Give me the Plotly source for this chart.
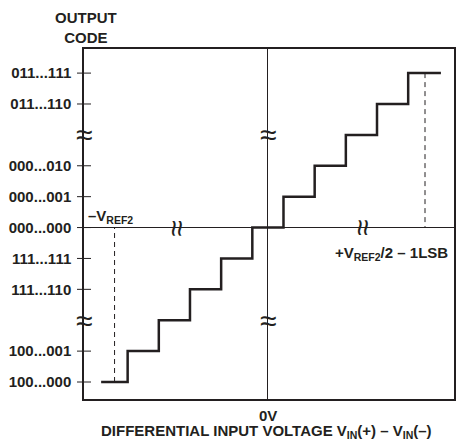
import plotly.graph_objects as go

# ---- data ----
code_positions = [-5, -4, -2, -1, 0, 1, 2, 4, 5]
code_labels = ["100...000", "100...001", "111...110", "111...111", "000...000",
               "000...001", "000...010", "011...110", "011...111"]

step_edges = [-5.35, -4.5, -3.5, -2.5, -1.5, -0.5, 0.5, 1.5, 2.5, 3.5, 4.5, 5.55]
step_levels = [-5, -4, -3, -2, -1, 0, 1, 2, 3, 4, 5]

neg_ref_x = -4.92
pos_ref_x = 5.04

y_break_levels = [-3, 3]
x_break_positions = [-2.9, 3.06]

x_range = [-5.9, 5.97]
y_range = [-5.55, 5.78]

INK = "#231f20"
FONT = "Liberation Sans, Arial, Helvetica, sans-serif"

fig = go.Figure()

# staircase
fig.add_trace(go.Scatter(
    x=step_edges, y=step_levels + [step_levels[-1]],
    mode="lines", line=dict(color=INK, width=2.5, shape="hv"),
    hoverinfo="skip", showlegend=False))

# dashed reference lines
fig.add_trace(go.Scatter(
    x=[neg_ref_x, neg_ref_x], y=[step_levels[0], 0],
    mode="lines", line=dict(color=INK, width=1, dash="5px,4px"),
    hoverinfo="skip", showlegend=False))
fig.add_trace(go.Scatter(
    x=[pos_ref_x, pos_ref_x], y=[step_levels[-1], 0],
    mode="lines", line=dict(color=INK, width=1, dash="5px,4px"),
    hoverinfo="skip", showlegend=False))

# tick crosses on the y-axis
fig.add_trace(go.Scatter(
    x=[x_range[0]] * len(code_positions), y=code_positions,
    mode="markers", marker=dict(symbol="line-ew", size=10,
                                line=dict(color=INK, width=1)),
    cliponaxis=False, hoverinfo="skip", showlegend=False))

annotations = []
# axis breaks on the vertical lines
for yb in y_break_levels:
    for xb in [x_range[0], 0]:
        annotations.append(dict(x=xb, y=yb, text="≈", showarrow=False,
                                xanchor="center", yanchor="middle",
                                font=dict(family=FONT, size=30, color=INK)))
# axis breaks on the horizontal zero line
for xb in x_break_positions:
    annotations.append(dict(x=xb, y=0, text="≈", showarrow=False, textangle=90,
                            xanchor="center", yanchor="middle",
                            font=dict(family=FONT, size=30, color=INK)))

annotations += [
    dict(xref="paper", yref="paper", x=2.5 / 372, y=(399 - 27.5) / 350,
         text="OUTPUT<br>CODE", showarrow=False, xanchor="center", yanchor="middle",
         font=dict(family=FONT, size=15, color=INK, weight="bold")),
    dict(x=x_range[0] + 0.06, y=0, text="–V<sub>REF2</sub>", showarrow=False,
         xanchor="left", yanchor="bottom", yshift=0,
         font=dict(family=FONT, size=15, color=INK, weight="bold")),
    dict(x=5.84, y=0, text="+V<sub>REF2</sub>/2 – 1LSB", showarrow=False,
         xanchor="right", yanchor="top", yshift=-14,
         font=dict(family=FONT, size=15, color=INK, weight="bold")),
    dict(x=0, yref="paper", y=(399 - 416) / 350, text="0V", showarrow=False,
         xanchor="center", yanchor="middle",
         font=dict(family=FONT, size=15, color=INK, weight="bold")),
    dict(xref="paper", x=(267 - 84) / 372, yref="paper", y=(399 - 431) / 350,
         text="DIFFERENTIAL INPUT VOLTAGE V<sub>IN</sub>(+) – V<sub>IN</sub>(–)",
         showarrow=False, xanchor="center", yanchor="middle",
         font=dict(family=FONT, size=15, color=INK, weight="bold")),
]

fig.update_layout(
    width=458, height=441,
    margin=dict(l=84, r=2, t=49, b=42),
    paper_bgcolor="white", plot_bgcolor="white",
    showlegend=False,
    annotations=annotations,
    xaxis=dict(range=x_range, showgrid=False, showticklabels=False, ticks="",
               zeroline=True, zerolinecolor=INK, zerolinewidth=1,
               showline=True, mirror=True, linecolor=INK, linewidth=1.5,
               fixedrange=True),
    yaxis=dict(range=y_range, showgrid=False, tickvals=code_positions,
               ticktext=code_labels, ticks="", ticklabelstandoff=8,
               tickfont=dict(family=FONT, size=15, color=INK, weight="bold"),
               zeroline=True, zerolinecolor=INK, zerolinewidth=1,
               showline=True, mirror=True, linecolor=INK, linewidth=1.5,
               fixedrange=True),
)

fig.write_html("out.html", config={"displayModeBar": False},
               post_script="document.body.style.margin='0px';document.body.style.overflow='hidden';")
